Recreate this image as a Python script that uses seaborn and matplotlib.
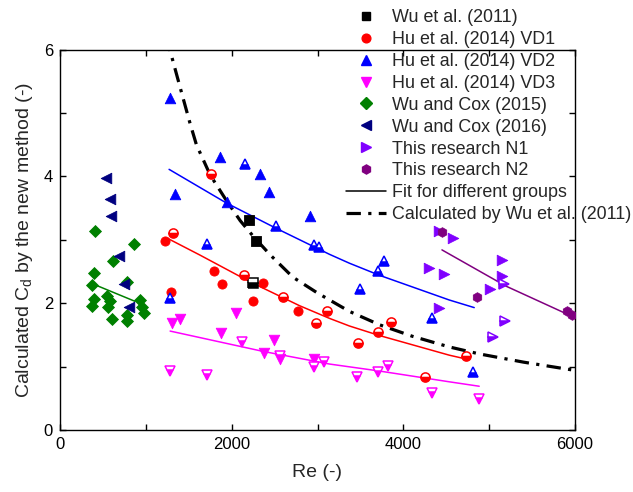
import numpy as np
import pandas as pd
import matplotlib
matplotlib.use("Agg")
import matplotlib.pyplot as plt
from matplotlib.lines import Line2D
import seaborn as sns

# ---------------- data ----------------
# Wu et al. (2011)
wu11_re = [2198, 2279]
wu11_cd = [3.31, 2.98]
wu11h_re = [2244]
wu11h_cd = [2.32]

# Hu et al. (2014) VD1
vd1_re = [1229, 1298, 1791, 1892, 2368, 2248, 2775]
vd1_cd = [2.98, 2.18, 2.51, 2.31, 2.32, 2.03, 1.88]
vd1h_re = [1756, 1322, 2147, 2601, 3112, 2977, 3469, 3709, 3857, 4256, 4729]
vd1h_cd = [4.04, 3.11, 2.44, 2.09, 1.87, 1.69, 1.37, 1.54, 1.71, 0.84, 1.17]

# Hu et al. (2014) VD2
vd2_re = [1279, 1345, 1860, 2334, 2434, 1950, 2907]
vd2_cd = [5.23, 3.72, 4.30, 4.03, 3.75, 3.59, 3.38]
vd2h_re = [2151, 1713, 2512, 2965, 3023, 1287, 3497, 3702, 3771, 4333, 4817]
vd2h_cd = [4.20, 2.93, 3.22, 2.92, 2.88, 2.08, 2.22, 2.50, 2.66, 1.76, 0.92]

# Hu et al. (2014) VD3
vd3_re = [1310, 1395, 1880, 2047, 2488, 2376, 2558, 2957]
vd3_cd = [1.69, 1.75, 1.53, 1.84, 1.42, 1.22, 1.12, 1.12]
vd3h_re = [1279, 1717, 2124, 2566, 3081, 2957, 3457, 3702, 3818, 4333, 4884]
vd3h_cd = [0.93, 0.87, 1.38, 1.16, 1.08, 0.99, 0.83, 0.91, 1.01, 0.59, 0.49]

# Wu and Cox (2015)
wc15_re = [407, 860, 620, 392, 372, 775, 395, 543, 581, 930, 368, 562, 601, 783, 977, 961, 775]
wc15_cd = [3.14, 2.93, 2.66, 2.47, 2.28, 2.33, 2.07, 2.11, 2.03, 2.05, 1.95, 1.94, 1.75, 1.72, 1.85, 1.94, 1.81]

# Wu and Cox (2016)
wc16_re = [531, 581, 590, 682, 744, 802]
wc16_cd = [3.97, 3.64, 3.38, 2.75, 2.30, 1.94]

# This research N1
n1_re = [4419, 4574, 4302, 4477, 5147, 5147, 5012, 4419]
n1_cd = [3.14, 3.02, 2.55, 2.46, 2.68, 2.43, 2.22, 1.92]
n1h_re = [5178, 5182, 5050]
n1h_cd = [2.30, 1.72, 1.47]

# This research N2
n2_re = [4445, 4853, 5910, 5960]
n2_cd = [3.12, 2.09, 1.87, 1.82]

# Fit lines for the different groups
fit_vd1_re = [1256, 1628, 2209, 2791, 3140, 3372, 3721, 4535, 4729]
fit_vd1_cd = [3.02, 2.76, 2.34, 1.96, 1.76, 1.64, 1.49, 1.18, 1.12]
fit_vd2_re = [1271, 1938, 2519, 3140, 3372, 3721, 4535, 4826]
fit_vd2_cd = [4.11, 3.58, 3.18, 2.77, 2.63, 2.44, 2.05, 1.93]
fit_vd3_re = [1283, 2364, 3140, 3721, 4535, 4884]
fit_vd3_cd = [1.56, 1.24, 1.04, 0.93, 0.76, 0.69]
fit_wc15_re = [407, 872]
fit_wc15_cd = [2.29, 2.03]
fit_n2_re = [4450, 5194, 5969]
fit_n2_cd = [2.84, 2.27, 1.79]

# Calculated by Wu et al. (2011)
calc_re = [1250, 1279, 1400, 1512, 1589, 1750, 1938, 2100, 2248, 2450, 2713,
           3000, 3372, 3721, 4100, 4535, 4884, 5400, 6000]
calc_cd = [6.2, 6.0, 5.4, 4.85, 4.50, 4.02, 3.62, 3.30, 3.06, 2.76, 2.41,
           2.16, 1.87, 1.66, 1.48, 1.31, 1.20, 1.07, 0.94]

legend_labels = ["Wu et al. (2011)", "Hu et al. (2014) VD1", "Hu et al. (2014) VD2",
                 "Hu et al. (2014) VD3", "Wu and Cox (2015)", "Wu and Cox (2016)",
                 "This research N1", "This research N2", "Fit for different groups",
                 "Calculated by Wu et al. (2011)"]

# ---------------- styling ----------------
sns.set_theme(style="ticks")
plt.rcParams["font.family"] = ["Liberation Sans", "DejaVu Sans"]
plt.rcParams["mathtext.fontset"] = "custom"
plt.rcParams["mathtext.rm"] = "Liberation Sans"

C_BLACK = "#000000"
C_RED = "#FF0000"
C_BLUE = "#0000FF"
C_MAG = "#FF00FF"
C_GREEN = "#008000"
C_NAVY = "#000080"
C_VIOLET = "#8000FF"
C_PURPLE = "#800080"

fig = plt.figure(figsize=(6.33, 4.92), dpi=100)
ax = fig.add_axes([60 / 633, 62 / 492, 515 / 633, 380.5 / 492])

MS = 6.6  # marker size in points

# fit lines first (underneath markers)
for xs, ys, c in [(fit_vd1_re, fit_vd1_cd, C_RED), (fit_vd2_re, fit_vd2_cd, C_BLUE),
                  (fit_vd3_re, fit_vd3_cd, C_MAG), (fit_wc15_re, fit_wc15_cd, C_GREEN),
                  (fit_n2_re, fit_n2_cd, C_PURPLE)]:
    sns.lineplot(x=xs, y=ys, color=c, lw=1.1, ax=ax, sort=False, estimator=None)

sns.lineplot(x=calc_re, y=calc_cd, color="black", lw=2.3, ax=ax, sort=False,
             estimator=None, dashes=False)
ax.lines[-1].set_dashes((4.5, 2.3, 1.0, 2.3))

# filled markers
filled = [
    (wu11_re, wu11_cd, "s", C_BLACK, 1.0),
    (vd1_re, vd1_cd, "o", C_RED, 1.0),
    (vd2_re, vd2_cd, "^", C_BLUE, 1.15),
    (vd3_re, vd3_cd, "v", C_MAG, 1.15),
    (wc15_re, wc15_cd, "D", C_GREEN, 0.92),
    (wc16_re, wc16_cd, "<", C_NAVY, 1.15),
    (n1_re, n1_cd, ">", C_VIOLET, 1.15),
    (n2_re, n2_cd, "h", C_PURPLE, 1.05),
]
for xs, ys, m, c, sc in filled:
    sns.scatterplot(x=xs, y=ys, marker=m, color=c, s=(MS * sc) ** 2,
                    edgecolor=c, linewidth=0.6, ax=ax, zorder=3)

# half-filled markers
half = [
    (wu11h_re, wu11h_cd, "s", C_BLACK, 1.0),
    (vd1h_re, vd1h_cd, "o", C_RED, 1.0),
    (vd2h_re, vd2h_cd, "^", C_BLUE, 1.15),
    (vd3h_re, vd3h_cd, "v", C_MAG, 1.15),
    (n1h_re, n1h_cd, ">", C_VIOLET, 1.15),
]
for xs, ys, m, c, sc in half:
    ax.plot(xs, ys, ls="none", marker=m, ms=MS * sc, mfc=c, mec=c,
            mfcalt="white", fillstyle="bottom", mew=1.1, zorder=3)

ax.set_xlim(0, 6000)
ax.set_ylim(0, 6)
ax.set_xticks([0, 2000, 4000, 6000])
ax.set_xticks([1000, 3000, 5000], minor=True)
ax.set_yticks([0, 2, 4, 6])
ax.set_yticks([1, 3, 5], minor=True)
ax.tick_params(which="both", direction="in", top=True, right=True,
               length=4, width=1.0, labelsize=12, colors="black", pad=5)
for sp in ax.spines.values():
    sp.set_linewidth(1.0)
    sp.set_color("black")
ax.set_facecolor("white")

ax.set_xlabel("Re (-)", fontsize=14, labelpad=9)
ax.set_ylabel(r"Calculated C$_\mathregular{d}$ by the new method (-)", fontsize=14, labelpad=6)

# legend
handles = []
for (xs, ys, m, c, sc), lab in zip(filled, legend_labels[:8]):
    handles.append(Line2D([], [], ls="none", marker=m, color=c, mfc=c, mec=c,
                          ms=MS * sc * 0.95))
handles.append(Line2D([], [], color="black", lw=1.1))
handles.append(Line2D([], [], color="black", lw=2.3, dashes=(4.5, 2.3, 1.0, 2.3)))

leg = ax.legend(handles, legend_labels, loc="upper left", frameon=False,
                bbox_to_anchor=(346 / 633, 1 - 9 / 492), bbox_transform=fig.transFigure,
                borderpad=0, borderaxespad=0, fontsize=12.9, labelspacing=0.275,
                handlelength=2.25, handletextpad=0.3)
leg.set_zorder(5)

fig.savefig("out.png", dpi=100, facecolor="white")
